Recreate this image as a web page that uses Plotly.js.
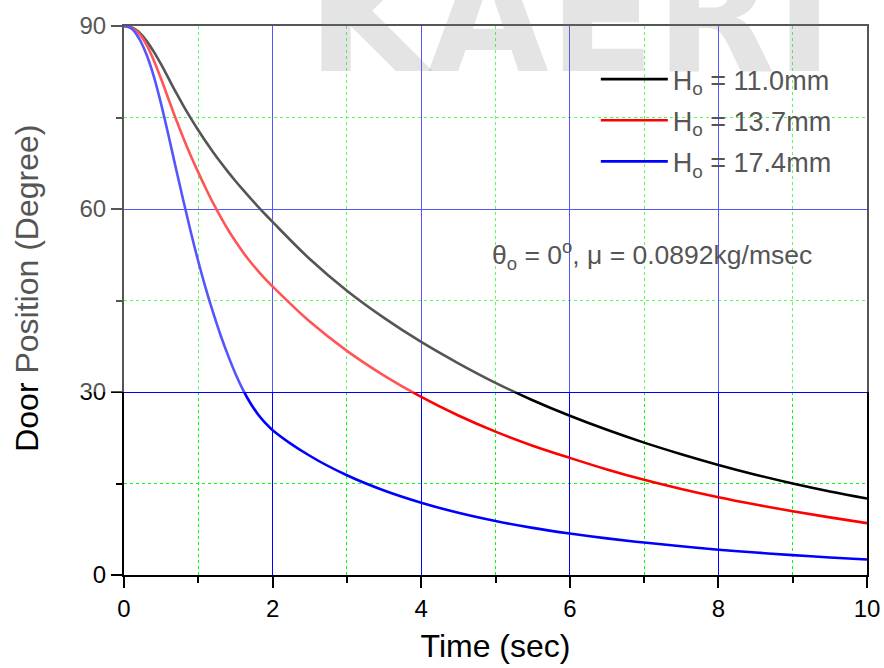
<!DOCTYPE html>
<html>
<head>
<meta charset="utf-8">
<script src="https://cdn.plot.ly/plotly-3.0.1.min.js"></script>
<style>
  html, body { margin: 0; padding: 0; background: #fff; }
  #chart { width: 884px; height: 668px; }
</style>
</head>
<body>
<div id="chart"></div>
<script>
// Time (sec)
const timeSec = [0, 0.1, 0.2, 0.3, 0.4, 0.5, 0.6, 0.7, 0.8, 0.9, 1.0, 1.1, 1.2, 1.3, 1.4, 1.5, 1.6, 1.7, 1.8, 1.9, 2.0,
                 2.5, 3.0, 3.5, 4.0, 4.5, 5.0, 5.5, 6.0, 6.5, 7.0, 7.5, 8.0, 8.5, 9.0, 9.5, 10.0];

// Door position (degree), H_o = 11.0 mm
const door110 = [90, 89.8, 89.0, 87.6, 85.8, 83.7, 81.4, 79.1, 76.9, 74.85, 72.9, 71.05, 69.3, 67.65, 66.08, 64.59, 63.16, 61.78, 60.44, 59.14, 57.88,
                 51.8, 46.6, 42.15, 38.2, 34.7, 31.5, 28.65, 26.1, 23.8, 21.7, 19.8, 18.05, 16.45, 15.0, 13.7, 12.55];

// Door position (degree), H_o = 13.7 mm
const door137 = [90, 89.7, 88.8, 87.0, 84.4, 81.3, 78.0, 74.7, 71.6, 68.7, 66.0, 63.4, 60.95, 58.7, 56.6, 54.7, 52.95, 51.35, 49.9, 48.55, 47.3,
                 41.55, 36.75, 32.7, 29.2, 26.15, 23.5, 21.2, 19.2, 17.3, 15.6, 14.1, 12.75, 11.55, 10.45, 9.45, 8.5];

// Door position (degree), H_o = 17.4 mm
const door174 = [90, 89.6, 88.0, 85.4, 81.8, 77.2, 72.0, 66.6, 61.3, 56.2, 51.4, 47.0, 43.0, 39.3, 36.0, 33.0, 30.4, 28.2, 26.4, 24.95, 23.75,
                 19.55, 16.35, 13.85, 11.85, 10.2, 8.85, 7.73, 6.8, 6.0, 5.32, 4.72, 4.15, 3.68, 3.26, 2.88, 2.53];

const seriesNames = ['H<sub>o</sub> = 11.0mm', 'H<sub>o</sub> = 13.7mm', 'H<sub>o</sub> = 17.4mm'];
const seriesValues = [door110, door137, door174];
const seriesColors = ['#000000', '#ff0000', '#0000ff'];

const xMajorTicks = [0, 2, 4, 6, 8, 10];
const xMinorTicks = [1, 3, 5, 7, 9];
const yMajorTicks = [0, 30, 60, 90];
const yMinorTicks = [15, 45, 75];

const FONT = 'Liberation Sans, Arial, Helvetica, sans-serif';

const traces = seriesValues.map((vals, i) => ({
  x: timeSec,
  y: vals,
  type: 'scatter',
  mode: 'lines',
  name: seriesNames[i],
  legendgroup: 'g' + i,
  line: { color: seriesColors[i], width: 2.6, shape: 'spline', smoothing: 1.0 }
}));

const axisCommon = {
  showline: true,
  linecolor: '#000',
  linewidth: 2,
  mirror: true,
  ticks: 'outside',
  ticklen: 11,
  tickwidth: 2,
  tickcolor: '#000',
  zeroline: false,
  showgrid: true,
  gridcolor: '#0000ff',
  gridwidth: 1,
  tickmode: 'array',
  tickfont: { family: FONT, size: 24, color: '#000' },
};

const minorCommon = {
  tickmode: 'array', ticks: 'outside', ticklen: 6, tickwidth: 2, tickcolor: '#000',
  showgrid: true, gridcolor: '#00ff00', griddash: 'dot', gridwidth: 1
};

const layout = {
  width: 884,
  height: 668,
  margin: { l: 124, r: 17, t: 26, b: 93 },
  paper_bgcolor: '#ffffff',
  plot_bgcolor: '#ffffff',
  font: { family: FONT, color: '#000' },
  xaxis: Object.assign({}, axisCommon, {
    range: [0, 10],
    tickvals: xMajorTicks,
    ticktext: xMajorTicks.map(String),
    minor: Object.assign({}, minorCommon, { tickvals: xMinorTicks }),
    title: { text: 'Time (sec)', font: { family: FONT, size: 32, color: '#000' }, standoff: 14 }
  }),
  yaxis: Object.assign({}, axisCommon, {
    range: [0, 90],
    tickvals: yMajorTicks,
    ticktext: yMajorTicks.map(String),
    minor: Object.assign({}, minorCommon, { tickvals: yMinorTicks })
  }),
  showlegend: true,
  legend: {
    x: 0.635, y: 0.947, xanchor: 'left', yanchor: 'top',
    bgcolor: 'rgba(0,0,0,0)',
    borderwidth: 0,
    font: { family: FONT, size: 27, color: '#555555' },
    itemwidth: 67,
    tracegroupgap: 3,
    traceorder: 'grouped'
  },
  annotations: [
    // faint watermark lettering
    {
      xref: 'paper', yref: 'paper', x: 0.60, y: 0.847,
      xanchor: 'center', yanchor: 'bottom',
      text: '<b>KAERI</b>',
      showarrow: false,
      font: { family: 'DejaVu Sans, Liberation Sans, sans-serif', size: 156, color: 'rgba(120,120,120,0.2)', weight: 'bold' }
    },
    {
      xref: 'x', yref: 'y', x: 7.11, y: 52.4,
      xanchor: 'center', yanchor: 'middle',
      text: '\u03b8<sub>o</sub> = 0<sup>o</sup>, \u03bc = 0.0892kg/msec',
      showarrow: false,
      font: { family: FONT, size: 26.5, color: '#555555' }
    },
    {
      xref: 'paper', yref: 'paper', x: -0.131, y: 0.5225,
      xanchor: 'center', yanchor: 'middle', textangle: -90,
      text: 'Door <span style="color:#555555">Position (Degree)</span>',
      showarrow: false,
      font: { family: FONT, size: 32, color: '#000000' }
    }
  ],
  shapes: [
    // translucent white veil over the upper part of the picture
    {
      type: 'rect', xref: 'paper', yref: 'paper',
      x0: -0.3, x1: 1.1, y0: 1 / 3, y1: 1.2,
      line: { width: 0 }, fillcolor: 'rgba(255,255,255,0.333)',
      layer: 'above'
    }
  ]
};

Plotly.newPlot('chart', traces, layout, { staticPlot: true, displayModeBar: false });
</script>
</body>
</html>
